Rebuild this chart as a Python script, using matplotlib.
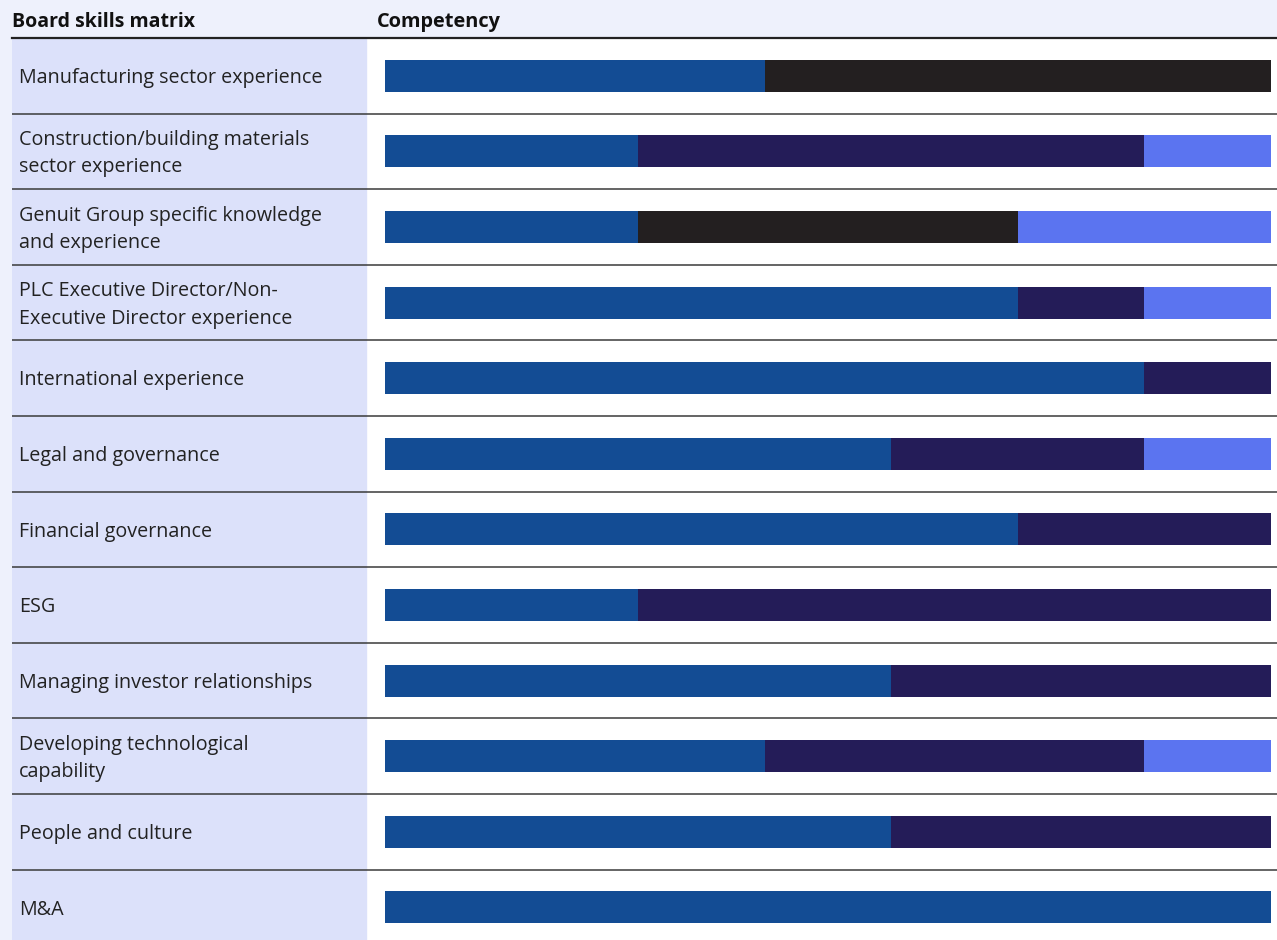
import matplotlib.pyplot as plt
import numpy as np

skills = [
    "Manufacturing sector experience",
    "Construction/building materials\nsector experience",
    "Genuit Group specific knowledge\nand experience",
    "PLC Executive Director/Non-\nExecutive Director experience",
    "International experience",
    "Legal and governance",
    "Financial governance",
    "ESG",
    "Managing investor relationships",
    "Developing technological\ncapability",
    "People and culture",
    "M&A",
]

# number of directors per competency level (7 directors)
expert = [3, 2, 2, 5, 6, 4, 5, 2, 4, 3, 4, 7]
other = [4, 0, 3, 0, 0, 0, 0, 0, 0, 0, 0, 0]
competent = [0, 4, 0, 1, 1, 2, 2, 5, 3, 3, 3, 0]
basic = [0, 1, 2, 1, 0, 1, 0, 0, 0, 1, 0, 0]

c_expert = '#134c94'
c_other = '#231f20'
c_competent = '#241c58'
c_basic = '#5b74f0'

plt.rcParams['font.family'] = ['Open Sans', 'DejaVu Sans']

W, H = 1277, 940
fig = plt.figure(figsize=(W / 100, H / 100), dpi=100)
fig.patch.set_facecolor('#eef1fc')

row_px = 75.6
top_px = 38
n_vis = (H - top_px) / row_px
ylim = (-0.5 + n_vis, -0.5)

# background axes: label column + white area + separators
axbg = fig.add_axes([12 / W, 0, (W - 12) / W, (H - top_px) / H])
axbg.set_xlim(0, W - 12)
axbg.set_ylim(*ylim)
axbg.axis('off')
axbg.add_patch(plt.Rectangle((354, ylim[1]), W - 366, n_vis, color='white', zorder=-1))
axbg.add_patch(plt.Rectangle((0, ylim[1]), 354, n_vis, color='#dce1fa', zorder=-1))
for i in range(1, len(skills)):
    axbg.axhline(i - 0.5, color='#3a3a3a', lw=1.1)
axbg.axhline(-0.5, color='#222222', lw=1.6, clip_on=False)
for i, s in enumerate(skills):
    axbg.text(7, i + 0.03, s, va='center', ha='left', fontsize=14.2, color='#222222',
              linespacing=1.5)

# bar axes
ax = fig.add_axes([385 / W, 0, 886 / W, (H - top_px) / H])
ax.patch.set_alpha(0)
ax.set_xlim(0, 7)
ax.set_ylim(*ylim)
y = np.arange(len(skills))
h = 32 / row_px
e = np.array(expert)
o = np.array(other)
c = np.array(competent)
b = np.array(basic)
ax.barh(y, e, height=h, color=c_expert, lw=0)
ax.barh(y, o, left=e, height=h, color=c_other, lw=0)
ax.barh(y, c, left=e + o, height=h, color=c_competent, lw=0)
ax.barh(y, b, left=e + o + c, height=h, color=c_basic, lw=0)
ax.axis('off')

fig.text(12 / W, 1 - 22 / H, "Board skills matrix", fontsize=14, fontweight='bold',
         va='center', ha='left', color='#111111')
fig.text(377 / W, 1 - 22 / H, "Competency", fontsize=14.4, fontweight='bold',
         va='center', ha='left', color='#111111')

fig.savefig('out.png', dpi=100, facecolor=fig.get_facecolor())
